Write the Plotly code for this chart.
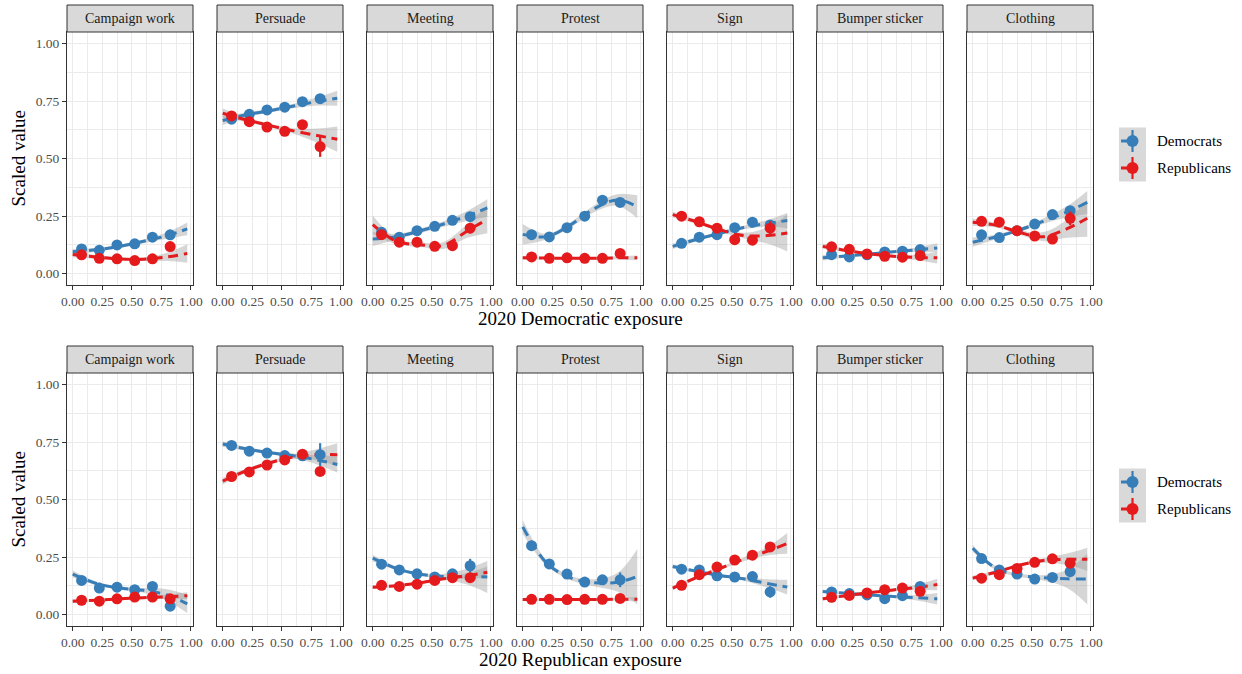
import plotly.graph_objects as go

# ---- data -------------------------------------------------------------
ACTIVITIES = ["Campaign work", "Persuade", "Meeting", "Protest", "Sign",
              "Bumper sticker", "Clothing"]
PARTIES = ["Democrats", "Republicans"]
ROW_TITLES = ["2020 Democratic exposure", "2020 Republican exposure"]

BIN_X = [0.075, 0.225, 0.375, 0.525, 0.675, 0.825]   # exposure bin midpoints
FIT_X = [0.0, 0.2, 0.4, 0.6, 0.8, 0.97]              # smoother evaluation grid

X_TICKS = [0, 0.25, 0.5, 0.75, 1.0]
X_TICK_LABELS = ["0.00", "0.25", "0.50", "0.75", "1.00"]
Y_TICKS = [0, 0.25, 0.5, 0.75, 1.0]
Y_TICK_LABELS = ["0.00", "0.25", "0.50", "0.75", "1.00"]

# Top row: by Democratic exposure
DEMEXP_DEM_MEAN = [
    [0.107, 0.101, 0.124, 0.129, 0.158, 0.168],
    [0.671, 0.692, 0.711, 0.723, 0.747, 0.760],
    [0.179, 0.158, 0.186, 0.205, 0.231, 0.247],
    [0.169, 0.159, 0.199, 0.249, 0.319, 0.309],
    [0.131, 0.158, 0.169, 0.199, 0.223, 0.211],
    [0.082, 0.072, 0.081, 0.094, 0.097, 0.104],
    [0.168, 0.156, 0.186, 0.215, 0.256, 0.273],
]
DEMEXP_DEM_ERR = [
    [0.006, 0.006, 0.006, 0.007, 0.008, 0.012],
    [0.010, 0.008, 0.008, 0.009, 0.010, 0.014],
    [0.012, 0.007, 0.007, 0.008, 0.010, 0.014],
    [0.008, 0.007, 0.007, 0.008, 0.010, 0.014],
    [0.007, 0.006, 0.006, 0.007, 0.009, 0.013],
    [0.006, 0.005, 0.005, 0.006, 0.007, 0.010],
    [0.008, 0.006, 0.006, 0.007, 0.009, 0.014],
]
DEMEXP_REP_MEAN = [
    [0.081, 0.066, 0.064, 0.056, 0.064, 0.117],
    [0.685, 0.660, 0.637, 0.618, 0.647, 0.552],
    [0.169, 0.136, 0.136, 0.118, 0.121, 0.197],
    [0.072, 0.066, 0.068, 0.066, 0.066, 0.087],
    [0.249, 0.225, 0.197, 0.147, 0.145, 0.197],
    [0.116, 0.105, 0.085, 0.075, 0.071, 0.078],
    [0.227, 0.223, 0.186, 0.163, 0.150, 0.240],
]
DEMEXP_REP_ERR = [
    [0.006, 0.006, 0.006, 0.007, 0.009, 0.018],
    [0.010, 0.008, 0.009, 0.010, 0.015, 0.045],
    [0.010, 0.007, 0.007, 0.009, 0.012, 0.022],
    [0.005, 0.005, 0.005, 0.005, 0.007, 0.012],
    [0.008, 0.007, 0.007, 0.008, 0.012, 0.030],
    [0.006, 0.005, 0.005, 0.006, 0.007, 0.012],
    [0.008, 0.007, 0.007, 0.008, 0.012, 0.030],
]
DEMEXP_DEM_FIT = [
    [0.095, 0.103, 0.118, 0.140, 0.165, 0.194],
    [0.665, 0.690, 0.708, 0.728, 0.748, 0.762],
    [0.150, 0.160, 0.185, 0.215, 0.250, 0.285],
    [0.170, 0.160, 0.210, 0.280, 0.320, 0.290],
    [0.118, 0.148, 0.175, 0.200, 0.218, 0.230],
    [0.068, 0.076, 0.085, 0.095, 0.103, 0.111],
    [0.136, 0.160, 0.190, 0.228, 0.268, 0.309],
]
DEMEXP_DEM_SE = [
    [0.012, 0.008, 0.007, 0.008, 0.014, 0.028],
    [0.020, 0.010, 0.008, 0.010, 0.018, 0.033],
    [0.030, 0.012, 0.010, 0.012, 0.022, 0.038],
    [0.045, 0.012, 0.012, 0.015, 0.025, 0.050],
    [0.012, 0.008, 0.007, 0.008, 0.015, 0.033],
    [0.012, 0.006, 0.005, 0.006, 0.010, 0.020],
    [0.020, 0.010, 0.008, 0.012, 0.025, 0.050],
]
DEMEXP_REP_FIT = [
    [0.083, 0.072, 0.063, 0.062, 0.072, 0.087],
    [0.697, 0.668, 0.643, 0.620, 0.600, 0.584],
    [0.212, 0.140, 0.125, 0.122, 0.185, 0.235],
    [0.068, 0.067, 0.066, 0.066, 0.068, 0.068],
    [0.256, 0.225, 0.190, 0.165, 0.165, 0.176],
    [0.118, 0.100, 0.085, 0.075, 0.070, 0.068],
    [0.223, 0.210, 0.178, 0.160, 0.195, 0.240],
]
DEMEXP_REP_SE = [
    [0.012, 0.008, 0.007, 0.008, 0.018, 0.040],
    [0.020, 0.010, 0.008, 0.012, 0.030, 0.055],
    [0.040, 0.012, 0.010, 0.015, 0.030, 0.060],
    [0.008, 0.005, 0.005, 0.005, 0.007, 0.010],
    [0.012, 0.008, 0.008, 0.012, 0.035, 0.080],
    [0.012, 0.006, 0.005, 0.006, 0.012, 0.025],
    [0.015, 0.010, 0.010, 0.020, 0.040, 0.080],
]

# Bottom row: by Republican exposure
REPEXP_DEM_MEAN = [
    [0.148, 0.115, 0.119, 0.108, 0.122, 0.036],
    [0.735, 0.710, 0.702, 0.691, 0.690, 0.695],
    [0.219, 0.194, 0.177, 0.163, 0.177, 0.212],
    [0.299, 0.220, 0.176, 0.141, 0.151, 0.151],
    [0.197, 0.194, 0.168, 0.163, 0.165, 0.098],
    [0.098, 0.091, 0.085, 0.069, 0.082, 0.122],
    [0.243, 0.194, 0.176, 0.154, 0.161, 0.187],
]
REPEXP_DEM_ERR = [
    [0.008, 0.006, 0.006, 0.007, 0.009, 0.020],
    [0.008, 0.007, 0.007, 0.008, 0.012, 0.050],
    [0.008, 0.006, 0.006, 0.007, 0.010, 0.030],
    [0.010, 0.008, 0.008, 0.009, 0.012, 0.032],
    [0.007, 0.006, 0.006, 0.007, 0.010, 0.025],
    [0.006, 0.005, 0.005, 0.006, 0.007, 0.020],
    [0.008, 0.006, 0.006, 0.007, 0.010, 0.025],
]
REPEXP_REP_MEAN = [
    [0.062, 0.058, 0.068, 0.076, 0.076, 0.068],
    [0.600, 0.620, 0.650, 0.672, 0.697, 0.622],
    [0.127, 0.122, 0.132, 0.148, 0.160, 0.160],
    [0.066, 0.066, 0.065, 0.066, 0.066, 0.070],
    [0.127, 0.173, 0.206, 0.237, 0.258, 0.294],
    [0.075, 0.083, 0.094, 0.108, 0.115, 0.101],
    [0.158, 0.173, 0.200, 0.227, 0.242, 0.223],
]
REPEXP_REP_ERR = [
    [0.005, 0.005, 0.005, 0.006, 0.007, 0.010],
    [0.010, 0.008, 0.008, 0.009, 0.010, 0.015],
    [0.006, 0.005, 0.005, 0.006, 0.007, 0.010],
    [0.004, 0.004, 0.004, 0.004, 0.005, 0.008],
    [0.007, 0.006, 0.006, 0.007, 0.009, 0.013],
    [0.005, 0.005, 0.005, 0.006, 0.007, 0.010],
    [0.006, 0.005, 0.005, 0.006, 0.008, 0.012],
]
REPEXP_DEM_FIT = [
    [0.176, 0.135, 0.115, 0.105, 0.085, 0.046],
    [0.741, 0.720, 0.703, 0.690, 0.672, 0.652],
    [0.245, 0.200, 0.175, 0.165, 0.165, 0.163],
    [0.381, 0.225, 0.160, 0.138, 0.140, 0.165],
    [0.209, 0.188, 0.170, 0.155, 0.135, 0.119],
    [0.100, 0.092, 0.085, 0.078, 0.073, 0.068],
    [0.288, 0.200, 0.170, 0.160, 0.155, 0.154],
]
REPEXP_DEM_SE = [
    [0.015, 0.008, 0.007, 0.010, 0.025, 0.040],
    [0.012, 0.008, 0.007, 0.010, 0.020, 0.035],
    [0.015, 0.008, 0.007, 0.012, 0.035, 0.070],
    [0.030, 0.012, 0.010, 0.015, 0.040, 0.120],
    [0.010, 0.006, 0.006, 0.008, 0.018, 0.032],
    [0.008, 0.005, 0.005, 0.006, 0.012, 0.025],
    [0.015, 0.008, 0.007, 0.012, 0.040, 0.110],
]
REPEXP_REP_FIT = [
    [0.058, 0.062, 0.068, 0.073, 0.077, 0.082],
    [0.580, 0.625, 0.660, 0.685, 0.695, 0.695],
    [0.119, 0.125, 0.138, 0.155, 0.168, 0.184],
    [0.065, 0.065, 0.065, 0.065, 0.066, 0.066],
    [0.115, 0.160, 0.200, 0.240, 0.275, 0.309],
    [0.068, 0.082, 0.095, 0.107, 0.118, 0.130],
    [0.158, 0.185, 0.215, 0.235, 0.240, 0.240],
]
REPEXP_REP_SE = [
    [0.008, 0.005, 0.005, 0.006, 0.010, 0.015],
    [0.015, 0.010, 0.008, 0.010, 0.025, 0.050],
    [0.008, 0.005, 0.005, 0.006, 0.012, 0.025],
    [0.006, 0.004, 0.004, 0.004, 0.006, 0.010],
    [0.010, 0.006, 0.006, 0.008, 0.018, 0.045],
    [0.008, 0.005, 0.005, 0.006, 0.012, 0.025],
    [0.010, 0.007, 0.007, 0.010, 0.025, 0.050],
]

ROWS = [
    {"mean": (DEMEXP_DEM_MEAN, DEMEXP_REP_MEAN), "err": (DEMEXP_DEM_ERR, DEMEXP_REP_ERR),
     "fit": (DEMEXP_DEM_FIT, DEMEXP_REP_FIT), "se": (DEMEXP_DEM_SE, DEMEXP_REP_SE)},
    {"mean": (REPEXP_DEM_MEAN, REPEXP_REP_MEAN), "err": (REPEXP_DEM_ERR, REPEXP_REP_ERR),
     "fit": (REPEXP_DEM_FIT, REPEXP_REP_FIT), "se": (REPEXP_DEM_SE, REPEXP_REP_SE)},
]

# ---- styling ----------------------------------------------------------
W, H = 1242, 674
COLORS = ["#377EB8", "#E41A1C"]
RIBBON = "rgba(153,153,153,0.4)"
FONT = "Liberation Serif"
BORDER = "#333333"
GRID = "#EBEBEB"

PANEL_LEFT0, PANEL_W, PANEL_STEP = 67, 126, 150
ROW_TOP = [32, 373]      # top of plotting area (below strip)
ROW_BOTTOM = [285, 626]
STRIP_H = 27


def px(x):
    return x / W


def py(y):
    return 1 - y / H


fig = go.Figure()
layout = dict(template="none", width=W, height=H, autosize=False,
              margin=dict(l=0, r=0, t=0, b=0, pad=0, autoexpand=False),
              paper_bgcolor="white", plot_bgcolor="white", showlegend=False,
              font=dict(family=FONT, color="black"))
shapes, annotations = [], []

for r, row in enumerate(ROWS):
    for c, act in enumerate(ACTIVITIES):
        k = r * 7 + c + 1
        xs = "x" if k == 1 else f"x{k}"
        ys = "y" if k == 1 else f"y{k}"
        left = PANEL_LEFT0 + PANEL_STEP * c
        right = left + PANEL_W

        # confidence ribbons
        for p in range(2):
            fit = row["fit"][p][c]
            se = row["se"][p][c]
            lo = [f - s for f, s in zip(fit, se)]
            hi = [f + s for f, s in zip(fit, se)]
            fig.add_trace(go.Scatter(x=FIT_X, y=lo, mode="lines", xaxis=xs, yaxis=ys,
                                     line=dict(width=0, shape="spline"), hoverinfo="skip"))
            fig.add_trace(go.Scatter(x=FIT_X, y=hi, mode="lines", xaxis=xs, yaxis=ys,
                                     line=dict(width=0, shape="spline"), fill="tonexty",
                                     fillcolor=RIBBON, hoverinfo="skip"))
        # smoothed trends
        for p in range(2):
            fig.add_trace(go.Scatter(x=FIT_X, y=row["fit"][p][c], mode="lines",
                                     xaxis=xs, yaxis=ys,
                                     line=dict(color=COLORS[p], width=3, dash="10px,6px",
                                               shape="spline"),
                                     hoverinfo="skip"))
        # binned means with intervals
        for p in range(2):
            fig.add_trace(go.Scatter(x=BIN_X, y=row["mean"][p][c], mode="markers",
                                     xaxis=xs, yaxis=ys, name=PARTIES[p],
                                     marker=dict(color=COLORS[p], size=11, line=dict(width=0)),
                                     error_y=dict(type="data", array=row["err"][p][c],
                                                  color=COLORS[p], thickness=2.2, width=0)))

        axis_common = dict(showline=True, mirror=True, linecolor=BORDER, linewidth=1,
                           zeroline=False, showgrid=True, gridcolor=GRID, gridwidth=1.2,
                           automargin=False,
                           tickfont=dict(family=FONT, size=13.5, color="#4D4D4D"))
        layout["xaxis" if k == 1 else f"xaxis{k}"] = dict(
            axis_common, domain=[px(left), px(right)], anchor=ys,
            range=[-0.0485, 1.0185], tickvals=X_TICKS, ticktext=X_TICK_LABELS,
            ticks="outside", ticklen=4, tickwidth=1, tickcolor=BORDER,
            minor=dict(dtick=0.125, tick0=0, showgrid=True, gridcolor=GRID, gridwidth=0.6,
                       ticks=""))
        layout["yaxis" if k == 1 else f"yaxis{k}"] = dict(
            axis_common, domain=[py(ROW_BOTTOM[r]), py(ROW_TOP[r])], anchor=xs,
            range=[-0.05, 1.05], tickvals=Y_TICKS, ticktext=Y_TICK_LABELS,
            showticklabels=(c == 0), ticks="outside" if c == 0 else "",
            ticklen=4, tickwidth=1, tickcolor=BORDER,
            minor=dict(dtick=0.125, tick0=0, showgrid=True, gridcolor=GRID, gridwidth=0.6,
                       ticks=""))

        # facet strip
        top = ROW_TOP[r] - STRIP_H
        shapes.append(dict(type="rect", xref="paper", yref="paper",
                           x0=px(left), x1=px(right), y0=py(ROW_TOP[r]), y1=py(top),
                           fillcolor="#D9D9D9", line=dict(color=BORDER, width=1)))
        annotations.append(dict(xref="paper", yref="paper", x=px((left + right) / 2),
                                y=py(top + STRIP_H / 2), text=act, showarrow=False,
                                font=dict(family=FONT, size=14, color="#1A1A1A"),
                                xanchor="center", yanchor="middle"))

    # axis titles
    mid_x = (PANEL_LEFT0 + PANEL_LEFT0 + PANEL_STEP * 6 + PANEL_W) / 2
    annotations.append(dict(xref="paper", yref="paper", x=px(mid_x),
                            y=py(ROW_BOTTOM[r] + 33), text=ROW_TITLES[r], showarrow=False,
                            font=dict(family=FONT, size=19, color="black"),
                            xanchor="center", yanchor="middle"))
    annotations.append(dict(xref="paper", yref="paper", x=px(18),
                            y=py((ROW_TOP[r] + ROW_BOTTOM[r]) / 2), text="Scaled value",
                            textangle=-90, showarrow=False,
                            font=dict(family=FONT, size=19, color="black"),
                            xanchor="center", yanchor="middle"))

    # legend keys
    key_left, key_size = 1119, 27
    key_top = (ROW_TOP[r] + ROW_BOTTOM[r]) / 2 - key_size - 4
    shapes.append(dict(type="rect", xref="paper", yref="paper",
                       x0=px(key_left), x1=px(key_left + key_size),
                       y0=py(key_top + 2 * key_size), y1=py(key_top),
                       fillcolor="#D9D9D9", line=dict(width=0)))
    for p in range(2):
        cy = key_top + key_size * p + key_size / 2
        cx = key_left + key_size / 2
        shapes.append(dict(type="line", xref="paper", yref="paper",
                           x0=px(key_left + 2), x1=px(cx), y0=py(cy), y1=py(cy),
                           line=dict(color=COLORS[p], width=3)))
        shapes.append(dict(type="line", xref="paper", yref="paper",
                           x0=px(cx), x1=px(cx), y0=py(cy - 11), y1=py(cy + 11),
                           line=dict(color=COLORS[p], width=2.2)))
        rad = 6
        shapes.append(dict(type="circle", xref="paper", yref="paper",
                           x0=px(cx - rad), x1=px(cx + rad), y0=py(cy + rad), y1=py(cy - rad),
                           fillcolor=COLORS[p], line=dict(width=0)))
        annotations.append(dict(xref="paper", yref="paper", x=px(key_left + key_size + 9),
                                y=py(cy), text=PARTIES[p], showarrow=False,
                                font=dict(family=FONT, size=15, color="black"),
                                xanchor="left", yanchor="middle"))

layout["shapes"] = shapes
layout["annotations"] = annotations
fig.update_layout(**layout)
fig.write_html("out.html", config={"responsive": False},
               post_script="document.body.style.margin='0';")
